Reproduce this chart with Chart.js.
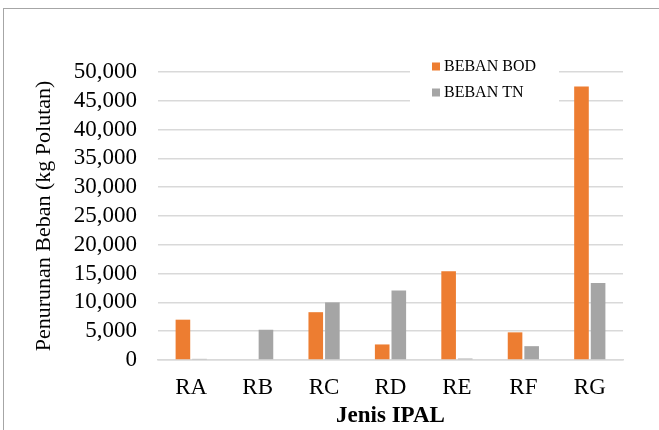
<!DOCTYPE html>
<html>
<head>
<meta charset="utf-8">
<script src="https://cdn.jsdelivr.net/npm/chart.js@4.4.1/dist/chart.umd.min.js"></script>
<style>
  html, body { margin: 0; padding: 0; background: #fff; overflow: hidden; }
  #wrap { position: relative; width: 659px; height: 430px; }
  #frame {
    position: absolute; left: 3px; top: 8px; width: 700px; height: 500px;
    border: 1px solid #a6a6a6; box-sizing: border-box;
  }
  canvas { position: absolute; left: 0; top: 0; }
</style>
</head>
<body>
<div id="wrap">
  <div id="frame"></div>
  <canvas id="bar-chart" width="659" height="430"></canvas>
</div>
<script>

( function() {

  var categories = [ 'RA', 'RB', 'RC', 'RD', 'RE', 'RF', 'RG' ];
  var bebanBOD = [ 7000, 0, 8300, 2700, 15400, 4800, 47500 ];
  var bebanTN = [ 200, 5250, 10000, 12050, 250, 2400, 13350 ];
  var yTicks = [ 0, 5000, 10000, 15000, 20000, 25000, 30000, 35000, 40000, 45000, 50000 ];

  var serif = '"Liberation Serif", "Times New Roman", serif';

  // legend sits inside the plot, top right, on a white box
  var insideLegend = {
    id: 'insideLegend',
    afterDatasetsDraw: function( chart ) {
      var ctx = chart.ctx;
      ctx.save();
      ctx.fillStyle = '#fff';
      ctx.fillRect( 410, 55, 149, 50 );
      ctx.font = '16px ' + serif;
      ctx.textBaseline = 'middle';
      chart.data.datasets.forEach( function( ds, i ) {
        var y = 66.5 + i * 26;
        ctx.fillStyle = ds.backgroundColor;
        ctx.fillRect( 432, y - 4, 8, 8 );
        ctx.fillStyle = '#000';
        ctx.fillText( ds.label, 444, y );
      } );
      ctx.restore();
    }
  };

  var config = {
    type: 'bar',
    data: {
      labels: categories,
      datasets: [
        {
          label: 'BEBAN BOD',
          data: bebanBOD,
          backgroundColor: '#ED7D31'
        },
        {
          label: 'BEBAN TN',
          data: bebanTN,
          backgroundColor: '#A5A5A5'
        }
      ]
    },
    options: {
      responsive: false,
      animation: false,
      layout: {
        padding: { left: 31, right: 36, top: 72, bottom: 0 }
      },
      categoryPercentage: 0.5,
      barPercentage: 0.88,
      plugins: {
        legend: { display: false },
        tooltip: { enabled: false }
      },
      scales: {
        x: {
          afterFit: function( axis ) {
            axis.height = 70;
          },
          grid: { display: false, drawTicks: false },
          border: { display: true, color: '#d9d9d9', width: 1.5 },
          ticks: { color: '#000', font: { family: serif, size: 23 }, padding: 14 },
          title: {
            display: true,
            text: 'Jenis IPAL',
            color: '#000',
            font: { family: serif, size: 23, weight: 'bold' },
            padding: { top: 0, bottom: 0 }
          }
        },
        y: {
          min: 0,
          max: 50000,
          afterBuildTicks: function( axis ) {
            axis.ticks = yTicks.map( function( v ) { return { value: v }; } );
          },
          afterFit: function( axis ) {
            axis.width = 127;
          },
          grid: { color: '#d9d9d9', lineWidth: 1.5, drawTicks: false },
          border: { display: false },
          ticks: {
            autoSkip: false,
            color: '#000',
            font: { family: serif, size: 23 },
            padding: 21,
            callback: function( v ) { return v.toLocaleString( 'en-US' ); }
          },
          title: {
            display: true,
            text: 'Penurunan Beban (kg Polutan)',
            color: '#000',
            font: { family: serif, size: 22 },
            padding: { top: 0, bottom: 0 }
          }
        }
      }
    },
    plugins: [ insideLegend ]
  };

  new Chart( document.getElementById( 'bar-chart' ), config );

} )();

</script>
</body>
</html>
